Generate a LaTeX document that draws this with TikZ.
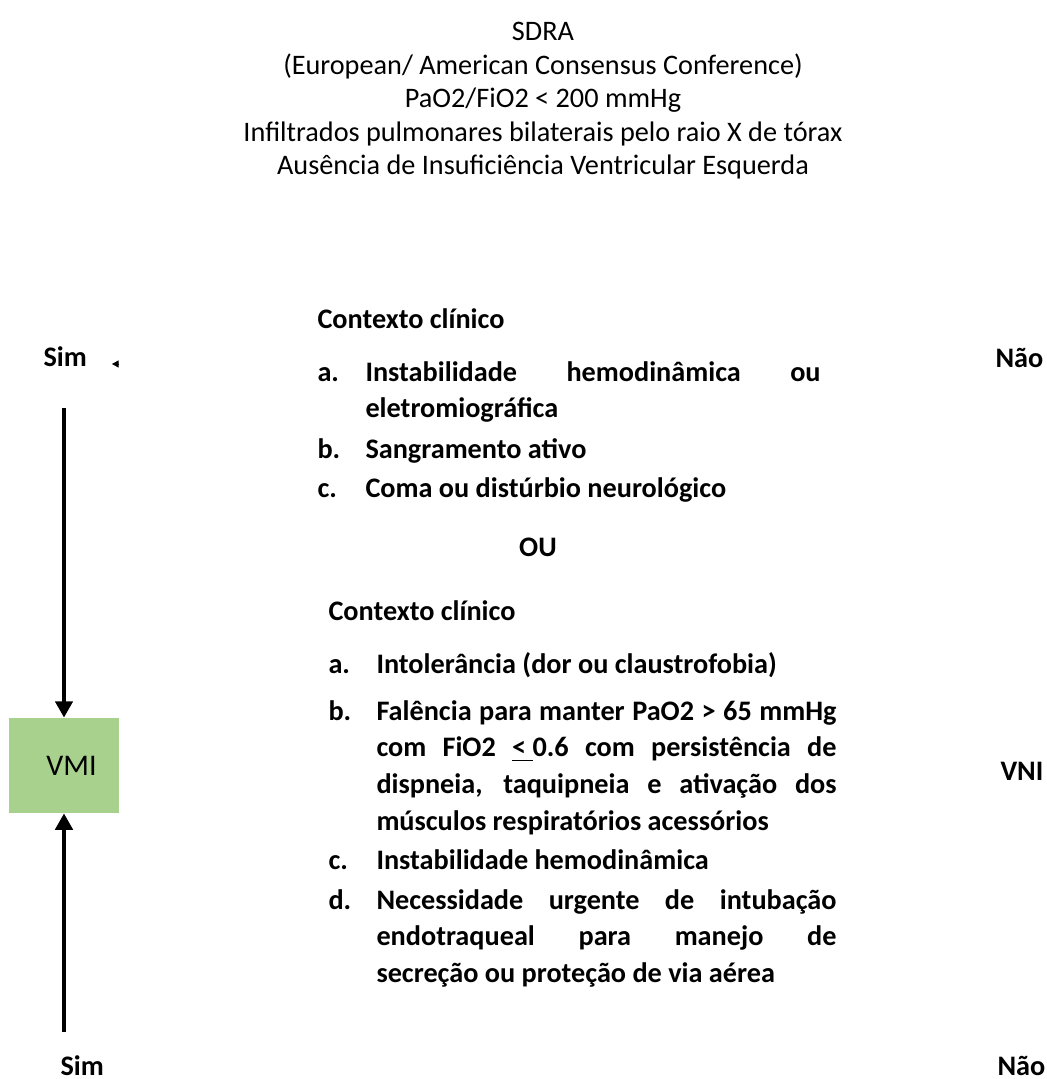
\documentclass[tikz,border=0pt]{standalone}
\usepackage{fontspec}
\setmainfont{Carlito}
\usetikzlibrary{arrows.meta}
\definecolor{verdevmi}{RGB}{169,209,142}
\tikzset{
  cabecalho/.style={font=\fontsize{11.3}{13.4}\selectfont, align=center, inner sep=0pt},
  texto/.style={font=\bfseries\fontsize{11.3}{14.7}\selectfont, inner sep=0pt, anchor=base west},
  paragrafo/.style={texto, align=justify, text width=#1},
  seta/.style={line width=1.3pt, -{Triangle[width=7pt,length=6.5pt]}},
  setinha/.style={line width=0.3pt, -{Triangle[width=2.8pt,length=2.6pt]}},
  caixa/.style={fill=verdevmi, minimum width=44pt, minimum height=38pt, inner sep=0pt, font=\fontsize{12}{14}\selectfont},
}
\begin{document}
\begin{tikzpicture}[x=0.4pt, y=-0.4pt]
\useasboundingbox (0,0) rectangle (1046,1079);
% cabecalho
\node[cabecalho, anchor=north] (sdra) at (543,22) {SDRA\\(European/ American Consensus Conference)\\PaO2/FiO2 < 200 mmHg\\Infiltrados pulmonares bilaterais pelo raio X de tórax\\Ausência de Insuficiência Ventricular Esquerda};
% lados
\node[texto] (simA) at (43,366) {Sim};
\node[texto] (naoA) at (995,367) {Não};
\node[texto] (vni) at (1000,780) {VNI};
\node[texto] (simB) at (60,1075) {Sim};
\node[texto] (naoB) at (997,1075) {Não};
\node[caixa] (vmi) at (64,765.5) {\hspace*{6pt}VMI};
\coordinate (topoA) at (64,408);
\coordinate (baseB) at (64,1032);
\coordinate (pontaA) at (119,364);
\coordinate (pontaB) at (112,364);
\draw[seta] (topoA) -- (vmi.north);
\draw[seta] (baseB) -- (vmi.south);
\draw[setinha] (pontaA) -- (pontaB);
% primeiro contexto
\node[texto] (ctxA) at (317,328) {Contexto clínico};
\node[texto] (aA) at (317,381) {a.};
\node[paragrafo=182pt] (aAt) at (365,381) {Instabilidade hemodinâmica ou\linebreak eletromiográfica};
\node[texto] (bA) at (317,458) {b.};
\node[texto] (bAt) at (365,458) {Sangramento ativo};
\node[texto] (cA) at (317,497) {c.};
\node[texto] (cAt) at (365,497) {Coma ou distúrbio neurológico};
\node[texto, anchor=base] (ou) at (538,556) {OU};
% segundo contexto
\node[texto] (ctxB) at (328,620) {Contexto clínico};
\node[texto] (aB) at (328,673) {a.};
\node[texto] (aBt) at (376,673) {Intolerância (dor ou claustrofobia)};
\node[texto] (bB) at (328,720) {b.};
\node[paragrafo=184pt] (bBt) at (376,720) {Falência para manter PaO2 > 65 mmHg\linebreak com FiO2 \underline{<\ }0.6 com persistência de\linebreak dispneia, taquipneia e ativação dos\linebreak músculos respiratórios acessórios};
\node[texto] (cB) at (328,869) {c.};
\node[texto] (cBt) at (376,869) {Instabilidade hemodinâmica};
\node[texto] (dB) at (328,909) {d.};
\node[paragrafo=184pt] (dBt) at (376,909) {Necessidade urgente de intubação\linebreak endotraqueal para manejo de\linebreak secreção ou proteção de via aérea};
\end{tikzpicture}
\end{document}
